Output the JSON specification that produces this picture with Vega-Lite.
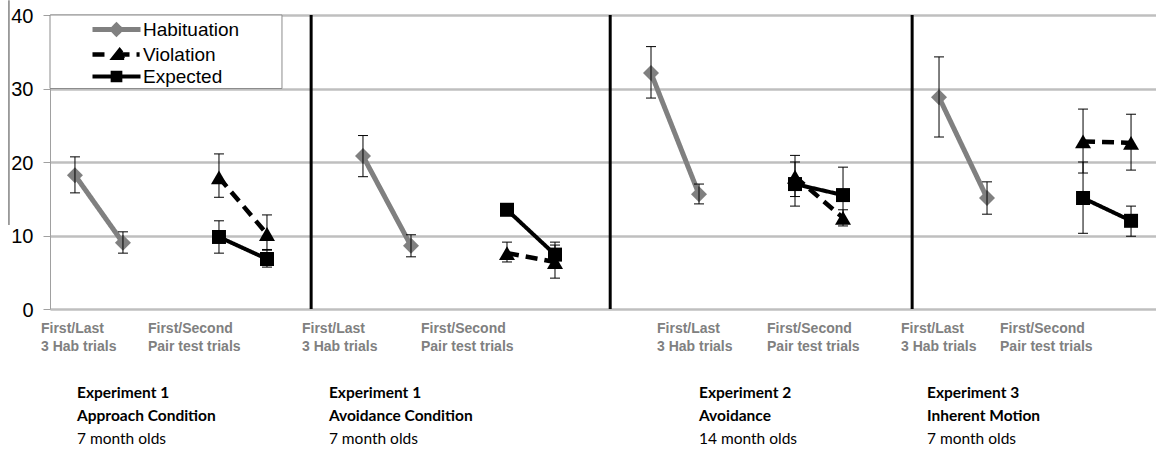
{
  "$schema": "https://vega.github.io/schema/vega-lite/v6.json",
  "width": 1106,
  "height": 294,
  "autosize": "none",
  "padding": {"left": 50, "top": 15, "right": 0, "bottom": 141},
  "background": "white",
  "config": {"view": {"stroke": null}, "font": "Liberation Sans"},
  "datasets": {
    "points": [
      {"panel": "E1A", "series": "Habituation", "pos": 0, "value": 18.2, "lo": 15.8, "hi": 20.7},
      {"panel": "E1A", "series": "Habituation", "pos": 1, "value": 9.0, "lo": 7.6, "hi": 10.5},
      {"panel": "E1A", "series": "Violation", "pos": 3, "value": 17.9, "lo": 15.2, "hi": 21.1},
      {"panel": "E1A", "series": "Violation", "pos": 4, "value": 10.2, "lo": 8.0, "hi": 12.8},
      {"panel": "E1A", "series": "Expected", "pos": 3, "value": 9.8, "lo": 7.6, "hi": 12.0},
      {"panel": "E1A", "series": "Expected", "pos": 4, "value": 6.8, "lo": 5.7, "hi": 8.1},
      {"panel": "E1V", "series": "Habituation", "pos": 6, "value": 20.8, "lo": 18.0, "hi": 23.6},
      {"panel": "E1V", "series": "Habituation", "pos": 7, "value": 8.6, "lo": 7.1, "hi": 10.1},
      {"panel": "E1V", "series": "Violation", "pos": 9, "value": 7.6, "lo": 6.4, "hi": 9.1},
      {"panel": "E1V", "series": "Violation", "pos": 10, "value": 6.4, "lo": 4.2, "hi": 8.7},
      {"panel": "E1V", "series": "Expected", "pos": 9, "value": 13.5, "lo": 13.0, "hi": 14.0},
      {"panel": "E1V", "series": "Expected", "pos": 10, "value": 7.4, "lo": 5.8, "hi": 9.1},
      {"panel": "E2", "series": "Habituation", "pos": 12, "value": 32.1, "lo": 28.7, "hi": 35.7},
      {"panel": "E2", "series": "Habituation", "pos": 13, "value": 15.6, "lo": 14.3, "hi": 17.0},
      {"panel": "E2", "series": "Violation", "pos": 15, "value": 18.0, "lo": 15.3, "hi": 20.9},
      {"panel": "E2", "series": "Violation", "pos": 16, "value": 12.4, "lo": 11.3, "hi": 13.5},
      {"panel": "E2", "series": "Expected", "pos": 15, "value": 17.0, "lo": 14.0, "hi": 20.0},
      {"panel": "E2", "series": "Expected", "pos": 16, "value": 15.5, "lo": 11.7, "hi": 19.3},
      {"panel": "E3", "series": "Habituation", "pos": 18, "value": 28.8, "lo": 23.4, "hi": 34.3},
      {"panel": "E3", "series": "Habituation", "pos": 19, "value": 15.1, "lo": 12.9, "hi": 17.3},
      {"panel": "E3", "series": "Violation", "pos": 21, "value": 22.8, "lo": 18.5, "hi": 27.2},
      {"panel": "E3", "series": "Violation", "pos": 22, "value": 22.6, "lo": 18.9, "hi": 26.5},
      {"panel": "E3", "series": "Expected", "pos": 21, "value": 15.1, "lo": 10.3, "hi": 20.0},
      {"panel": "E3", "series": "Expected", "pos": 22, "value": 12.0, "lo": 9.9, "hi": 14.0}
    ],
    "separators": [{"at": 4.92}, {"at": 11.15}, {"at": 17.44}],
    "ticklabels": [
      {"label": "First/Last\n3 Hab trials", "at": -0.708},
      {"label": "First/Second\nPair test trials", "at": 1.521},
      {"label": "First/Last\n3 Hab trials", "at": 4.729},
      {"label": "First/Second\nPair test trials", "at": 7.208},
      {"label": "First/Last\n3 Hab trials", "at": 12.125},
      {"label": "First/Second\nPair test trials", "at": 14.417},
      {"label": "First/Last\n3 Hab trials", "at": 17.208},
      {"label": "First/Second\nPair test trials", "at": 19.271}
    ],
    "captions": [
      {"exp": "Experiment 1", "cond": "Approach Condition", "age": "7 month olds", "at": 0.042},
      {"exp": "Experiment 1", "cond": "Avoidance Condition", "age": "7 month olds", "at": 5.29},
      {"exp": "Experiment 2", "cond": "Avoidance", "age": "14 month olds", "at": 13.0},
      {"exp": "Experiment 3", "cond": "Inherent Motion", "age": "7 month olds", "at": 17.75}
    ]
  },
  "layer": [
    {
      "data": {"values": [{"box": "legend"}]},
      "mark": {"type": "rect", "fill": "#ffffff", "stroke": "#8c8c8c", "strokeWidth": 1},
      "encoding": {
        "x": {"datum": -0.52, "type": "quantitative", "scale": {"domain": [-0.52, 22.52], "nice": false, "zero": false}, "axis": null},
        "x2": {"datum": 4.3125},
        "y": {"datum": 40, "type": "quantitative", "scale": {"domain": [0, 40], "nice": false},
          "axis": {"values": [0, 10, 20, 30, 40], "title": null, "grid": true, "gridColor": "#bfbfbf", "gridWidth": 2.5, "domain": true, "domainColor": "#a0a0a0", "domainWidth": 1, "ticks": true, "tickColor": "#a0a0a0", "tickSize": 7, "tickWidth": 1, "labelFont": "Liberation Sans", "labelFontSize": 20, "labelColor": "#000000", "labelPadding": 10, "labelOffset": 1}},
        "y2": {"datum": 30}
      }
    },
    {
      "data": {"name": "separators"},
      "mark": {"type": "rule", "stroke": "#000000", "strokeWidth": 3},
      "encoding": {
        "x": {"field": "at", "type": "quantitative", "scale": {"domain": [-0.52, 22.52], "nice": false, "zero": false}},
        "y": {"datum": 0, "type": "quantitative", "scale": {"domain": [0, 40], "nice": false}},
        "y2": {"datum": 40}
      }
    },
    {
      "data": {"values": [{"edge": "left"}]},
      "mark": {"type": "rule", "stroke": "#444444", "strokeWidth": 1},
      "encoding": {
        "x": {"datum": -1.375, "type": "quantitative", "scale": {"domain": [-0.52, 22.52], "nice": false, "zero": false}},
        "y": {"datum": 11.43, "type": "quantitative", "scale": {"domain": [0, 40], "nice": false}},
        "y2": {"datum": 42.0}
      }
    },
    {
      "data": {"name": "points"},
      "mark": {"type": "point", "filled": true, "opacity": 0, "strokeWidth": 4},
      "encoding": {
        "x": {"field": "pos", "type": "quantitative", "scale": {"domain": [-0.52, 22.52], "nice": false, "zero": false}},
        "y": {"field": "value", "type": "quantitative", "scale": {"domain": [0, 40], "nice": false}},
        "shape": {"field": "series", "type": "nominal",
          "scale": {"domain": ["Habituation", "Violation", "Expected"], "range": ["M-3.43,0H3.43M0,-0.6L0.6,0L0,0.6L-0.6,0Z", "M-3.43,0H-1.29M-0.35,0.45L0.45,-0.55L1.25,0.45ZM0.5,0H1.86M2.86,0H3.3", "M-3.43,0H3.43M-0.55,-0.55H0.55V0.55H-0.55Z"]},
          "legend": {"orient": "none", "legendX": 57, "legendY": 5, "title": null, "padding": 0, "labelFont": "Liberation Sans", "labelFontSize": 19, "labelColor": "#000000", "labelOffset": 17, "symbolSize": 196, "symbolStrokeWidth": 4, "symbolOpacity": 1, "rowPadding": -3}},
        "fill": {"field": "series", "type": "nominal",
          "scale": {"domain": ["Habituation", "Violation", "Expected"], "range": ["#808080", "#000000", "#000000"]},
          "legend": {"orient": "none", "legendX": 57, "legendY": 5, "title": null, "padding": 0, "labelFont": "Liberation Sans", "labelFontSize": 19, "labelColor": "#000000", "labelOffset": 17, "symbolSize": 196, "symbolStrokeWidth": 4, "symbolOpacity": 1, "rowPadding": -3}},
        "stroke": {"field": "series", "type": "nominal",
          "scale": {"domain": ["Habituation", "Violation", "Expected"], "range": ["#808080", "#000000", "#000000"]},
          "legend": {"orient": "none", "legendX": 57, "legendY": 5, "title": null, "padding": 0, "labelFont": "Liberation Sans", "labelFontSize": 19, "labelColor": "#000000", "labelOffset": 17, "symbolSize": 196, "symbolStrokeWidth": 4, "symbolOpacity": 1, "rowPadding": -3}}
      }
    },
    {
      "data": {"name": "points"},
      "mark": {"type": "line", "strokeCap": "butt", "strokeJoin": "round"},
      "encoding": {
        "x": {"field": "pos", "type": "quantitative", "scale": {"domain": [-0.52, 22.52], "nice": false, "zero": false}},
        "y": {"field": "value", "type": "quantitative", "scale": {"domain": [0, 40], "nice": false}},
        "stroke": {"field": "series", "type": "nominal",
          "scale": {"domain": ["Habituation", "Violation", "Expected"], "range": ["#808080", "#000000", "#000000"]},
          "legend": null},
        "strokeDash": {"field": "series", "type": "nominal", "scale": {"domain": ["Habituation", "Violation", "Expected"], "range": [[1, 0], [12, 7], [1, 0]]}, "legend": null},
        "strokeWidth": {"field": "series", "type": "nominal", "scale": {"domain": ["Habituation", "Violation", "Expected"], "range": [5, 4, 4]}, "legend": null},
        "detail": {"field": "panel"},
        "order": {"field": "pos"}
      }
    },
    {
      "data": {"name": "points"},
      "transform": [{"filter": "datum.series === 'Habituation'"}],
      "mark": {"type": "point", "filled": true, "opacity": 1, "strokeWidth": 0, "shape": "diamond", "size": 256, "fill": "#808080"},
      "encoding": {
        "x": {"field": "pos", "type": "quantitative", "scale": {"domain": [-0.52, 22.52], "nice": false, "zero": false}},
        "y": {"field": "value", "type": "quantitative", "scale": {"domain": [0, 40], "nice": false}}
      }
    },
    {
      "data": {"name": "points"},
      "transform": [{"filter": "datum.series === 'Violation'"}],
      "mark": {"type": "point", "filled": true, "opacity": 1, "strokeWidth": 0, "shape": "triangle-up", "size": 256, "fill": "#000000"},
      "encoding": {
        "x": {"field": "pos", "type": "quantitative", "scale": {"domain": [-0.52, 22.52], "nice": false, "zero": false}},
        "y": {"field": "value", "type": "quantitative", "scale": {"domain": [0, 40], "nice": false}}
      }
    },
    {
      "data": {"name": "points"},
      "transform": [{"filter": "datum.series === 'Expected'"}],
      "mark": {"type": "point", "filled": true, "opacity": 1, "strokeWidth": 0, "shape": "square", "size": 196, "fill": "#000000"},
      "encoding": {
        "x": {"field": "pos", "type": "quantitative", "scale": {"domain": [-0.52, 22.52], "nice": false, "zero": false}},
        "y": {"field": "value", "type": "quantitative", "scale": {"domain": [0, 40], "nice": false}}
      }
    },
    {
      "data": {"name": "points"},
      "mark": {"type": "rule", "stroke": "#000000", "strokeWidth": 1},
      "encoding": {
        "x": {"field": "pos", "type": "quantitative", "scale": {"domain": [-0.52, 22.52], "nice": false, "zero": false}},
        "y": {"field": "lo", "type": "quantitative", "scale": {"domain": [0, 40], "nice": false}},
        "y2": {"field": "hi"}
      }
    },
    {
      "data": {"name": "points"},
      "mark": {"type": "tick", "orient": "horizontal", "size": 10, "thickness": 1, "color": "#000000", "opacity": 1},
      "encoding": {
        "x": {"field": "pos", "type": "quantitative", "scale": {"domain": [-0.52, 22.52], "nice": false, "zero": false}},
        "y": {"field": "lo", "type": "quantitative", "scale": {"domain": [0, 40], "nice": false}}
      }
    },
    {
      "data": {"name": "points"},
      "mark": {"type": "tick", "orient": "horizontal", "size": 10, "thickness": 1, "color": "#000000", "opacity": 1},
      "encoding": {
        "x": {"field": "pos", "type": "quantitative", "scale": {"domain": [-0.52, 22.52], "nice": false, "zero": false}},
        "y": {"field": "hi", "type": "quantitative", "scale": {"domain": [0, 40], "nice": false}}
      }
    },
    {
      "data": {"name": "ticklabels"},
      "mark": {"type": "text", "align": "left", "baseline": "top", "font": "Liberation Sans", "fontSize": 14, "fontWeight": "bold", "color": "#808080", "lineBreak": "\n", "lineHeight": 18},
      "encoding": {
        "x": {"field": "at", "type": "quantitative", "scale": {"domain": [-0.52, 22.52], "nice": false, "zero": false}},
        "y": {"datum": -1.77, "type": "quantitative", "scale": {"domain": [0, 40], "nice": false}},
        "text": {"field": "label"}
      }
    },
    {
      "data": {"name": "captions"},
      "mark": {"type": "text", "align": "left", "baseline": "alphabetic", "font": "Lato", "fontSize": 15.5, "fontWeight": "bold", "color": "#000000"},
      "encoding": {
        "x": {"field": "at", "type": "quantitative", "scale": {"domain": [-0.52, 22.52], "nice": false, "zero": false}},
        "y": {"datum": -12.1, "type": "quantitative", "scale": {"domain": [0, 40], "nice": false}},
        "text": {"field": "exp"}
      }
    },
    {
      "data": {"name": "captions"},
      "mark": {"type": "text", "align": "left", "baseline": "alphabetic", "font": "Lato", "fontSize": 15.5, "fontWeight": "bold", "color": "#000000"},
      "encoding": {
        "x": {"field": "at", "type": "quantitative", "scale": {"domain": [-0.52, 22.52], "nice": false, "zero": false}},
        "y": {"datum": -15.24, "type": "quantitative", "scale": {"domain": [0, 40], "nice": false}},
        "text": {"field": "cond"}
      }
    },
    {
      "data": {"name": "captions"},
      "mark": {"type": "text", "align": "left", "baseline": "alphabetic", "font": "Lato", "fontSize": 15.5, "fontWeight": "normal", "color": "#000000"},
      "encoding": {
        "x": {"field": "at", "type": "quantitative", "scale": {"domain": [-0.52, 22.52], "nice": false, "zero": false}},
        "y": {"datum": -18.37, "type": "quantitative", "scale": {"domain": [0, 40], "nice": false}},
        "text": {"field": "age"}
      }
    }
  ]
}
